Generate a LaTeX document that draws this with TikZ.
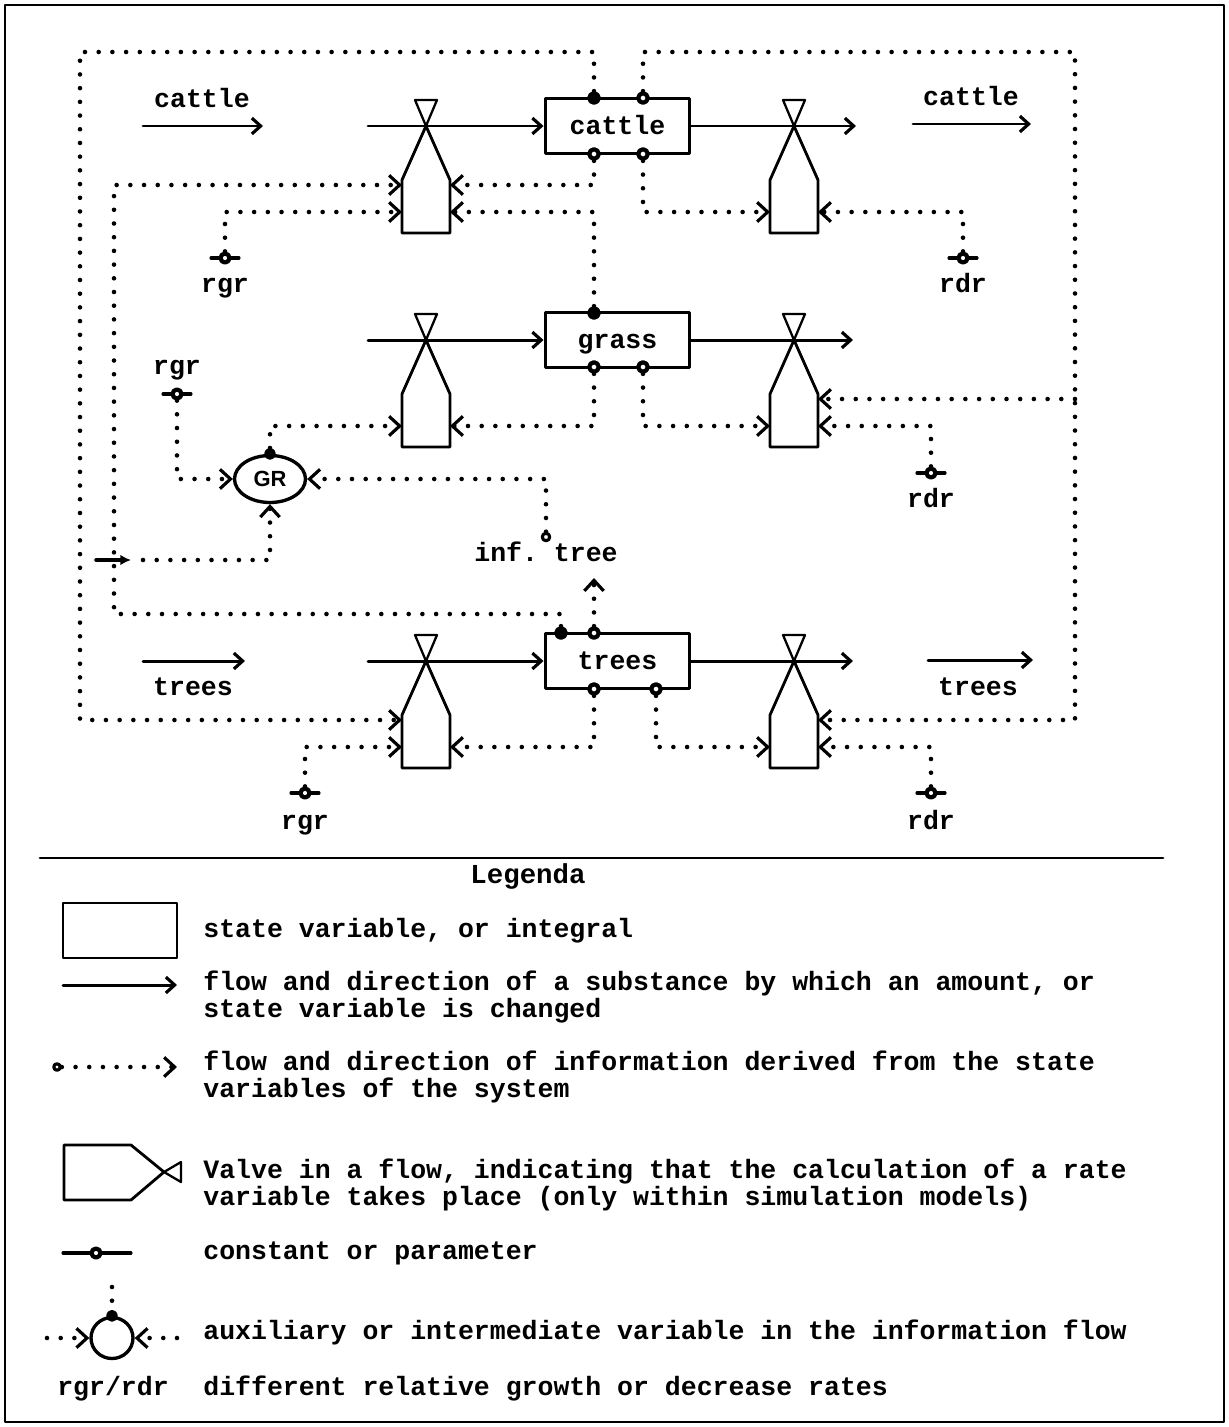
\documentclass[tikz,border=0pt]{standalone}
\usepackage{fontspec}
\setmonofont{Liberation Mono}
\setsansfont{Liberation Sans}
\usetikzlibrary{arrows.meta,calc,shapes.geometric}

\begin{document}
\begin{tikzpicture}[
  x=0.02cm, y=-0.02cm,
  line cap=round,
  line join=round,
  every node/.style={font=\ttfamily\bfseries\fontsize{15.1}{15.9}\selectfont},
  stock/.style={draw,line width=1.7pt,minimum width=2.9cm,minimum height=1.1cm,
    inner sep=0pt,text height=9.4pt,text depth=0pt},
  flow/.style={line width=1.7pt,-{Straight Barb[length=5pt,width=9pt,line width=1.8pt]}},
  info/.style={line width=2.6pt,dash pattern=on 0pt off 7.8pt},
  infoarr/.style={info,-{Straight Barb[length=6pt,width=11pt,line width=1.8pt]}},
  valve/.style={line width=1.6pt},
  tap/.style={circle,draw,fill=white,line width=2.4pt,inner sep=0pt,minimum size=0.19cm},
  tapfull/.style={tap,fill=black},
  const/.style={circle,draw,fill=white,line width=2.4pt,inner sep=0pt,minimum size=0.18cm},
  aux/.style={ellipse,draw,line width=1.9pt,inner sep=0pt},
  lab/.style={anchor=base},
  legtext/.style={anchor=base west,inner sep=0pt}
]
\useasboundingbox (0,0) rectangle (1229,1427);
\draw[line width=1.2pt] (5,5) rectangle (1224,1422);

% ------------------------------------------------------------------
% State variables
% ------------------------------------------------------------------
\node[stock] (cattle) at (617.5,126) {cattle};
\node[stock] (grass) at (617.5,340) {grass};
\node[stock] (trees) at (617.5,661) {trees};

\foreach \m/\x/\y in {c-tl/594/98, g-t/594/313, t-tl/561/633}
  \node[tapfull] (\m) at (\x,\y) {};
\foreach \m/\x/\y in {c-tr/643/98, c-bl/594/154, c-br/643/154,
                      g-bl/594/367, g-br/643/367,
                      t-tr/594/633, t-bl/594/689, t-br/656/689}
  \node[tap] (\m) at (\x,\y) {};

% ------------------------------------------------------------------
% Flows and valves
% ------------------------------------------------------------------
\coordinate (c-src) at (368,126);
\coordinate (c-snk) at (856,126);
\coordinate (g-src) at (368,340);
\coordinate (g-snk) at (853,340);
\coordinate (t-src) at (368,661);
\coordinate (t-snk) at (853,661);

\draw[flow] (c-src) -- (cattle.west);
\draw[flow] (cattle.east) -- (c-snk);
\draw[flow] (g-src) -- (grass.west);
\draw[flow] (grass.east) -- (g-snk);
\draw[flow] (t-src) -- (trees.west);
\draw[flow] (trees.east) -- (t-snk);

\foreach \v/\x/\y in {v1/426/126, v2/794/126, v3/426/340,
                      v4/794/340, v5/426/661, v6/794/661}{
  \draw[valve,line width=1.3pt] (\x-11,\y-26) -- (\x+11,\y-26) -- (\x,\y) -- cycle;
  \draw[valve] (\x-24,\y+107) -- (\x-24,\y+54) -- (\x,\y)
    -- (\x+24,\y+54) -- (\x+24,\y+107) -- cycle;
  \coordinate (\v-lu) at (\x-24,\y+59);
  \coordinate (\v-ll) at (\x-24,\y+86);
  \coordinate (\v-ru) at (\x+24,\y+59);
  \coordinate (\v-rl) at (\x+24,\y+86);
}

% outer flows
\coordinate (ca-l) at (143,126);
\coordinate (ca-r) at (263,126);
\coordinate (cb-l) at (913,124);
\coordinate (cb-r) at (1031,124);
\coordinate (ta-l) at (143,661);
\coordinate (ta-r) at (245,661);
\coordinate (tb-l) at (928,660);
\coordinate (tb-r) at (1033,660);
\draw[flow] (ca-l) -- (ca-r);
\draw[flow] (cb-l) -- (cb-r);
\draw[flow] (ta-l) -- (ta-r);
\draw[flow] (tb-l) -- (tb-r);

\node[lab] (ca-t) at (202,107) {cattle};
\node[lab] (cb-t) at (971,105) {cattle};
\node[lab] (ta-t) at (193,695) {trees};
\node[lab] (tb-t) at (978,695) {trees};

% ------------------------------------------------------------------
% Parameters and auxiliary variables
% ------------------------------------------------------------------
\foreach \c/\x/\y/\ly/\t in {rgr1/225/258/292/rgr, rdr1/963/258/292/rdr,
                             rgr2/177/394/374/rgr, rdr2/931/473/507/rdr,
                             rgr3/305/793/829/rgr, rdr3/931/793/829/rdr}{
  \draw[line width=1.8pt] (\x-14,\y) -- (\x+14,\y);
  \node[const] (\c) at (\x,\y) {};
  \node[lab] (\c-t) at (\x,\ly) {\t};
}

\node[aux,minimum width=1.42cm,minimum height=0.94cm,
  font=\sffamily\bfseries\fontsize{12.5}{14}\selectfont] (gr) at (270,479) {GR};
\node[tapfull,minimum size=0.15cm] (grdot) at (gr.north) {};

\node[tap,minimum size=0.15cm,line width=1.8pt] (inf) at (546,537) {};
\node[lab] (inf-t) at (546,561) {inf. tree};
\coordinate (infarr) at (594,578);

% ------------------------------------------------------------------
% Information lines
% ------------------------------------------------------------------
\coordinate (lt) at (80,52);
\coordinate (rt) at (1075,52);
\coordinate (lm) at (114,614);
\coordinate (rj) at (rt |- v4-ru);

\draw[infoarr] (c-tl) |- (lt) |- (v5-lu);
\draw[infoarr] (c-tr) |- (rt) |- (v6-ru);
\draw[infoarr] (rj) -- (v4-ru);
\draw[infoarr] (t-tl) |- (lm) |- (v1-lu);

\draw[infoarr] (c-bl) |- (v1-ru);
\draw[infoarr] (g-t) |- (v1-rl);
\draw[infoarr] (c-br) |- (v2-ll);
\draw[infoarr] (rgr1) |- (v1-ll);
\draw[infoarr] (rdr1) |- (v2-rl);

\draw[infoarr] (g-bl) |- (v3-rl);
\draw[infoarr] (g-br) |- (v4-ll);
\draw[infoarr] (rdr2) |- (v4-rl);
\draw[infoarr] (grdot) |- (v3-ll);

\draw[infoarr] (t-bl) |- (v5-rl);
\draw[infoarr] (t-br) |- (v6-ll);
\draw[infoarr] (rgr3) |- (v5-ll);
\draw[infoarr] (rdr3) |- (v6-rl);

\draw[infoarr] (rgr2) |- (gr.west);
\draw[infoarr] (inf) |- (gr.east);
\draw[infoarr] (t-tr) -- (infarr);

\coordinate (gj-a) at (96,560);
\coordinate (gj-b) at (131,560);
\coordinate (gj-c) at (143,560);
\draw[line width=2pt,-{Latex[length=6pt,width=6pt]}] (gj-a) -- (gj-b);
\draw[infoarr] (gj-c) -| (gr.south);

% ------------------------------------------------------------------
% Legend
% ------------------------------------------------------------------
\draw[line width=1.6pt] (40,858) -- (1163,858);
\node[lab,font=\ttfamily\bfseries\fontsize{15.6}{16}\selectfont] (leg) at (528,883) {Legenda};

\node[draw,line width=1.4pt,minimum width=2.28cm,minimum height=1.1cm] (lg-box) at (120,930.5) {};
\node[legtext] (lg-t1) at (203,937) {state variable, or integral};

\coordinate (lg-fl) at (63,985);
\coordinate (lg-fr) at (177,985);
\draw[flow] (lg-fl) -- (lg-fr);
\node[legtext] (lg-t2) at (203,990) {flow and direction of a substance by which an amount, or};
\node[legtext] (lg-t2b) at (203,1017) {state variable is changed};

\node[tap,minimum size=0.13cm,line width=1.8pt] (lg-o) at (57,1067) {};
\coordinate (lg-ir) at (177,1067);
\draw[infoarr] (lg-o) -- (lg-ir);
\node[legtext] (lg-t3) at (203,1070) {flow and direction of information derived from the state};
\node[legtext] (lg-t3b) at (203,1097) {variables of the system};

\draw[valve] (64,1145) -- (131,1145) -- (164,1172) -- (131,1200) -- (64,1200) -- cycle;
\draw[valve,line width=1.3pt] (164,1172) -- (181,1162) -- (181,1182) -- cycle;
\node[legtext] (lg-t4) at (203,1178) {Valve in a flow, indicating that the calculation of a rate};
\node[legtext] (lg-t4b) at (203,1205) {variable takes place (only within simulation models)};

\draw[line width=1.8pt] (63,1253) -- (131,1253);
\node[const] (lg-c) at (96,1253) {};
\node[legtext] (lg-t5) at (203,1259) {constant or parameter};

\node[aux,minimum width=0.84cm,minimum height=0.82cm] (lg-aux) at (112,1338) {};
\node[tapfull,minimum size=0.15cm] (lg-auxdot) at (lg-aux.north) {};
\coordinate (lg-auxtop) at (112,1287);
\coordinate (lg-auxl) at (47,1338);
\coordinate (lg-auxr) at (177,1338);
\draw[info] (lg-auxtop) -- (lg-auxdot);
\draw[infoarr] (lg-auxl) -- (lg-aux.west);
\draw[infoarr] (lg-auxr) -- (lg-aux.east);
\node[legtext] (lg-t6) at (203,1339) {auxiliary or intermediate variable in the information flow};

\node[lab] (lg-rr) at (113,1395) {rgr/rdr};
\node[legtext] (lg-t7) at (203,1395) {different relative growth or decrease rates};

\end{tikzpicture}
\end{document}
